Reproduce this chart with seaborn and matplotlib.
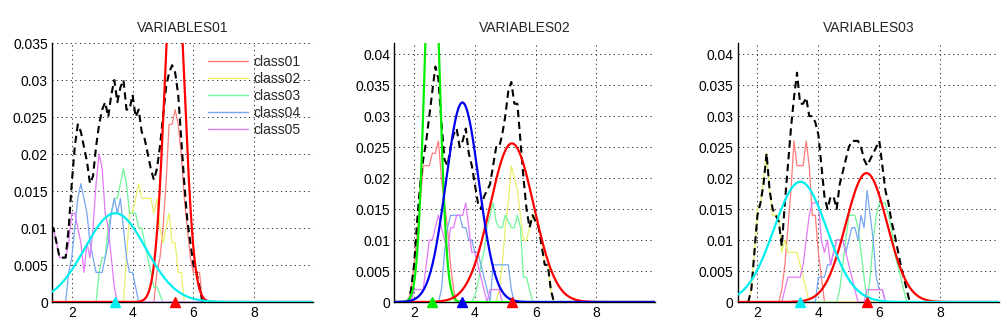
import numpy as np
import pandas as pd
import matplotlib
matplotlib.use("Agg")
import matplotlib.pyplot as plt
from matplotlib.lines import Line2D
from matplotlib.ticker import FuncFormatter
import seaborn as sns

# ---------------- data ----------------
TITLES = ["VARIABLES01", "VARIABLES02", "VARIABLES03"]
CLASS_NAMES = ["class01", "class02", "class03", "class04", "class05"]
X_TICKS = [2, 4, 6, 8]
GRID_START, GRID_STEP, GRID_N = 1.3, 0.1, 88

# panel 1 class curves: start x and values every 0.1
P1_STARTS = [4.7, 3.7, 2.8, 1.8, 1.3]
P1_C01 = [0, 0.004, 0.006, 0.01, 0.016, 0.024, 0.024, 0.026, 0.024, 0.02, 0.014, 0.01, 0.006, 0.004, 0.004, 0.004, 0]
P1_C02 = [0, 0.006, 0.012, 0.012, 0.014, 0.016, 0.014, 0.014, 0.014, 0.014, 0.012, 0.014, 0.01, 0.008, 0.01, 0.012, 0.008, 0.008, 0.004, 0.004, 0]
P1_C03 = [0, 0.004, 0.006, 0.006, 0.01, 0.012, 0.014, 0.014, 0.016, 0.018, 0.016, 0.012, 0.012, 0.012, 0.01, 0.01, 0.008, 0.006, 0.004, 0.002, 0.002, 0.001, 0]
P1_C04 = [0, 0.004, 0.006, 0.01, 0.014, 0.016, 0.014, 0.012, 0.008, 0.006, 0.004, 0.004, 0.004, 0.006, 0.008, 0.012, 0.014, 0.012, 0.014, 0.01, 0.006, 0.004, 0.004, 0.002, 0]
P1_C05 = [0.01, 0.01, 0.008, 0.006, 0.006, 0.006, 0.008, 0.012, 0.012, 0.01, 0.008, 0.004, 0.008, 0.006, 0.01, 0.016, 0.02, 0.018, 0.012, 0.01, 0.006, 0.002, 0]
P1_TOTAL_START = 1.3
P1_TOTAL = [0.01, 0.01, 0.008, 0.006, 0.006, 0.006, 0.01, 0.016, 0.021, 0.024, 0.023, 0.021, 0.019, 0.016,
            0.017, 0.021, 0.024, 0.026, 0.027, 0.025, 0.028, 0.03, 0.027, 0.029, 0.03, 0.026, 0.026, 0.028,
            0.025, 0.026, 0.023, 0.022, 0.02, 0.018, 0.0165, 0.018, 0.021, 0.025, 0.029, 0.031, 0.032, 0.031,
            0.028, 0.022, 0.016, 0.011, 0.008, 0.005, 0.004, 0.002, 0]

# panel 2
P2_STARTS = [1.8, 4.7, 3.9, 2.8, 1.9]
P2_C01 = [0, 0.002, 0.006, 0.011, 0.016, 0.022, 0.022, 0.022, 0.024, 0.024, 0.026, 0.02, 0.016, 0.012, 0.006, 0.002, 0]
P2_C02 = [0, 0.002, 0.006, 0.012, 0.016, 0.022, 0.02, 0.018, 0.014, 0.01, 0.01, 0.012, 0.014, 0.014, 0.012, 0.01, 0.006, 0.006, 0.002, 0]
P2_C03 = [0, 0.001, 0.003, 0.006, 0.008, 0.012, 0.014, 0.016, 0.013, 0.012, 0.012, 0.014, 0.013, 0.012, 0.012, 0.014, 0.012, 0.004, 0.004, 0.002, 0]
P2_C04 = [0, 0.002, 0.008, 0.012, 0.014, 0.014, 0.014, 0.014, 0.012, 0.012, 0.01, 0.01, 0.008, 0.008, 0.006, 0.004, 0.002, 0, 0.006, 0.006, 0.006, 0.006, 0.006, 0.006, 0.002, 0]
P2_C05 = [0, 0.002, 0.002, 0.002, 0.002, 0.006, 0.01, 0.01, 0.012, 0.014, 0.012, 0.01, 0.008, 0.012, 0.012, 0.014, 0.014, 0.014, 0.016, 0.012, 0.008, 0.008, 0.006, 0.004, 0.002, 0, 0.002, 0.002, 0.002, 0.002, 0]
P2_TOTAL_START = 1.8
P2_TOTAL = [0, 0.002, 0.006, 0.013, 0.019, 0.023, 0.026, 0.03, 0.034, 0.038, 0.036, 0.029, 0.023, 0.022,
            0.025, 0.027, 0.028, 0.025, 0.026, 0.028, 0.024, 0.022, 0.019, 0.016, 0.015, 0.017, 0.018, 0.019,
            0.022, 0.025, 0.025, 0.027, 0.03, 0.034, 0.0355, 0.032, 0.032, 0.026, 0.02, 0.015, 0.012, 0.014,
            0.013, 0.012, 0.009, 0.006, 0.006, 0.002, 0]

# panel 3
P3_STARTS = [2.7, 1.7, 4.6, 3.9, 2.8]
P3_C01 = [0, 0.002, 0.006, 0.012, 0.018, 0.026, 0.022, 0.022, 0.022, 0.026, 0.022, 0.014, 0.014, 0.008, 0.004, 0]
P3_C02 = [0, 0.002, 0.008, 0.015, 0.016, 0.02, 0.024, 0.018, 0.014, 0.014, 0.014, 0.008, 0.01, 0.008, 0.008, 0.008, 0.008, 0.006, 0.004, 0.002, 0]
P3_C03 = [0, 0.002, 0.006, 0.01, 0.014, 0.014, 0.014, 0.012, 0.008, 0.004, 0, 0.004, 0.01, 0.014, 0.016, 0.016, 0.016, 0.014, 0.012, 0.008, 0.006, 0.004, 0.002, 0]
P3_C04 = [0, 0.004, 0.004, 0.004, 0.006, 0.006, 0.008, 0.01, 0.01, 0.01, 0.008, 0.01, 0.012, 0.012, 0.01, 0.014, 0.012, 0.018, 0.014, 0.01, 0.004, 0.002, 0.002, 0]
P3_C05 = [0, 0.002, 0.004, 0.004, 0.004, 0.004, 0.004, 0.006, 0.01, 0.014, 0.016, 0.016, 0.016, 0.01, 0.008, 0.01, 0.006, 0.008, 0.01, 0.01, 0.01, 0.008, 0.006, 0.004, 0.002, 0, 0, 0, 0.002, 0.002, 0.002, 0.002, 0.002, 0.002, 0]
P3_TOTAL_START = 1.7
P3_TOTAL = [0, 0.002, 0.008, 0.014, 0.016, 0.019, 0.024, 0.018, 0.015, 0.014, 0.013, 0.009, 0.016, 0.022,
            0.028, 0.033, 0.037, 0.032, 0.032, 0.033, 0.03, 0.03, 0.029, 0.027, 0.022, 0.017, 0.015, 0.017,
            0.017, 0.015, 0.019, 0.021, 0.023, 0.025, 0.026, 0.026, 0.026, 0.025, 0.023, 0.022, 0.023, 0.024,
            0.025, 0.026, 0.022, 0.018, 0.016, 0.013, 0.011, 0.0085, 0.006, 0.004, 0.002, 0]

# fitted gaussian components (mean, sd, peak height)
P1_FIT_MEANS = [5.38, 3.43]
P1_FIT_SDS = [0.317, 1.0]
P1_FIT_PEAKS = [0.0496, 0.012]
P2_FIT_MEANS = [2.59, 5.22, 3.59]
P2_FIT_SDS = [0.24, 0.72, 0.54]
P2_FIT_PEAKS = [0.0636, 0.0256, 0.0322]
P3_FIT_MEANS = [5.58, 3.41]
P3_FIT_SDS = [0.68, 0.87]
P3_FIT_PEAKS = [0.0208, 0.0194]

# ---------------- styles ----------------
CLASS_COLORS = ["#ff7a7a", "#eaf06a", "#70f59a", "#76a6f2", "#e47af8"]
P1_FIT_COLORS = ["#ff0000", "#00f0f0"]
P2_FIT_COLORS = ["#00ee00", "#ff0000", "#0000ee"]
P3_FIT_COLORS = ["#ff0000", "#00f0f0"]
YMAX = [0.035, 0.0418, 0.0418]
YTICKS = [np.arange(0, 0.0351, 0.005), np.arange(0, 0.0401, 0.005), np.arange(0, 0.0401, 0.005)]
AX_RECTS = [
    [0.0516, 0.0985, 0.2592, 0.7731],
    [0.3916, 0.0985, 0.2589, 0.7731],
    [0.7325, 0.0985, 0.2596, 0.7731],
]

sns.set_style("white")
plt.rcParams["font.family"] = ["Liberation Sans", "DejaVu Sans"]

grid_x = np.round(GRID_START + GRID_STEP * np.arange(GRID_N), 2)


def on_grid(start, values):
    arr = np.zeros(GRID_N)
    i0 = int(round((start - GRID_START) / GRID_STEP))
    arr[i0:i0 + len(values)] = values
    return arr


panels = [
    (P1_STARTS, [P1_C01, P1_C02, P1_C03, P1_C04, P1_C05], P1_TOTAL_START, P1_TOTAL,
     P1_FIT_MEANS, P1_FIT_SDS, P1_FIT_PEAKS, P1_FIT_COLORS),
    (P2_STARTS, [P2_C01, P2_C02, P2_C03, P2_C04, P2_C05], P2_TOTAL_START, P2_TOTAL,
     P2_FIT_MEANS, P2_FIT_SDS, P2_FIT_PEAKS, P2_FIT_COLORS),
    (P3_STARTS, [P3_C01, P3_C02, P3_C03, P3_C04, P3_C05], P3_TOTAL_START, P3_TOTAL,
     P3_FIT_MEANS, P3_FIT_SDS, P3_FIT_PEAKS, P3_FIT_COLORS),
]

fig = plt.figure(figsize=(10.07, 3.35), dpi=100)
fine_x = np.linspace(GRID_START, grid_x[-1], 600)
fmt = FuncFormatter(lambda v, p: "0" if abs(v) < 1e-12 else ("%g" % round(v, 4)))

for k, (starts, classes, tstart, tvals, means, sds, peaks, fcolors) in enumerate(panels):
    ax = fig.add_axes(AX_RECTS[k])
    for ci, (st, vals) in enumerate(zip(starts, classes)):
        df = pd.DataFrame({"x": grid_x, "y": on_grid(st, vals)})
        sns.lineplot(data=df, x="x", y="y", ax=ax, color=CLASS_COLORS[ci], linewidth=0.9,
                     estimator=None, sort=False, zorder=3)
    dft = pd.DataFrame({"x": grid_x, "y": on_grid(tstart, tvals)})
    sns.lineplot(data=dft, x="x", y="y", ax=ax, color="black", linewidth=1.5,
                 linestyle=(0, (3.5, 2.2)), estimator=None, sort=False, zorder=4)
    for m, s, pk, c in zip(means, sds, peaks, fcolors):
        g = pk * np.exp(-((fine_x - m) ** 2) / (2 * s ** 2))
        dfg = pd.DataFrame({"x": fine_x, "y": g})
        sns.lineplot(data=dfg, x="x", y="y", ax=ax, color=c, linewidth=1.6,
                     estimator=None, sort=False, zorder=5)
    for m, c in zip(means, fcolors):
        ax.plot([m], [0], marker="^", markersize=7, color=c, markeredgecolor=c,
                linestyle="none", clip_on=False, zorder=7)

    ax.set_xlim(1.35, 9.93)
    ax.set_ylim(0, YMAX[k])
    ax.set_xticks(X_TICKS)
    ax.set_yticks(YTICKS[k])
    ax.yaxis.set_major_formatter(fmt)
    ax.set_xlabel("")
    ax.set_ylabel("")
    ax.grid(True, color="#222222", linestyle=(0, (1.2, 3.5)), linewidth=0.7)
    ax.set_axisbelow(True)
    for side in ["top", "right"]:
        ax.spines[side].set_visible(False)
    for side in ["left", "bottom"]:
        ax.spines[side].set_color("black")
        ax.spines[side].set_linewidth(1.0)
    ax.tick_params(axis="both", which="both", direction="in", length=0, labelsize=10, pad=3, colors="black")
    ax.set_title(TITLES[k], fontsize=10, pad=8)
    if ax.get_legend() is not None:
        ax.get_legend().remove()
    if k == 0:
        handles = [Line2D([0], [0], color=CLASS_COLORS[i], linewidth=1.0) for i in range(5)]
        ax.legend(handles, CLASS_NAMES, loc="upper left", bbox_to_anchor=(0.577, 0.975),
                  frameon=False, fontsize=10, handlelength=2.9, handletextpad=0.35,
                  labelspacing=0.22, borderaxespad=0.0, borderpad=0.4)

fig.savefig("out.png", dpi=100)
